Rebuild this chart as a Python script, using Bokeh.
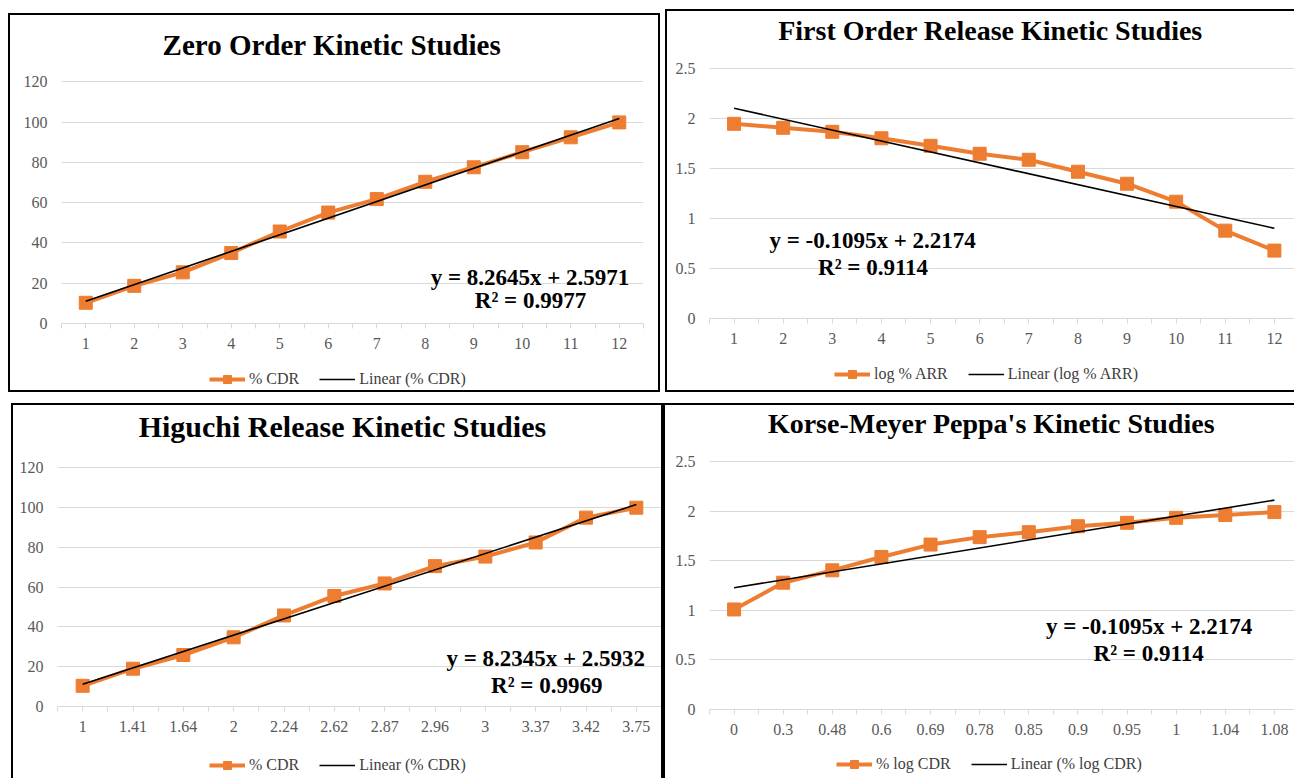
import numpy as np
from bokeh.plotting import figure
from bokeh.models import (Range1d, FixedTicker, Legend, LegendItem, Label,
                          CustomJSTickFormatter)
from bokeh.layouts import column, row
from bokeh.embed import file_html
from bokeh.resources import INLINE

# ---------------- data ----------------
time_points = [1, 2, 3, 4, 5, 6, 7, 8, 9, 10, 11, 12]
time_labels = ["1", "2", "3", "4", "5", "6", "7", "8", "9", "10", "11", "12"]

zero_order_cdr = [10.3, 18.7, 25.4, 35.0, 45.7, 55.1, 61.8, 70.4, 77.6, 85.1, 92.5, 99.9]
first_order_log_arr = [1.95, 1.91, 1.87, 1.805, 1.73, 1.65, 1.59, 1.47, 1.35, 1.17, 0.88, 0.68]
higuchi_sqrt_t = ["1", "1.41", "1.64", "2", "2.24", "2.62", "2.87", "2.96", "3", "3.37", "3.42", "3.75"]
higuchi_cdr = [10.4, 19.0, 25.9, 34.8, 45.8, 55.6, 61.9, 70.6, 75.4, 82.5, 95.0, 100.0]
peppas_log_t = ["0", "0.3", "0.48", "0.6", "0.69", "0.78", "0.85", "0.9", "0.95", "1", "1.04", "1.08"]
peppas_log_cdr = [1.01, 1.28, 1.405, 1.54, 1.665, 1.74, 1.79, 1.85, 1.885, 1.935, 1.963, 1.993]

zero_ticks = [0, 20, 40, 60, 80, 100, 120]
log_ticks = [0, 0.5, 1, 1.5, 2, 2.5]

ORANGE = "#ED7D31"
GRID = "#d9d9d9"
FONT = "Liberation Serif"
BORDER = "2px solid black"


def make_panel(title, x_labels, y_vals, y_ticks, series_label, eq_text, r2_text,
               eq_xy, r2_xy, cfg):
    x = time_points
    side = {"border-left": BORDER}
    if cfg["right_border"]:
        side["border-right"] = BORDER

    # ---------- main plot ----------
    p = figure(width=cfg["w"], height=cfg["h"], output_backend="svg",
               toolbar_location=None,
               x_range=Range1d(0.5, cfg["x_end"]),
               y_range=Range1d(y_ticks[0], cfg["y_end"]),
               min_border_left=cfg["mb_l"], min_border_right=cfg["mb_r"],
               min_border_top=0, min_border_bottom=40,
               styles=dict(side, **{"border-top": BORDER}))
    p.outline_line_color = None
    p.background_fill_color = "white"
    p.border_fill_color = "white"

    xt = FixedTicker(ticks=x, minor_ticks=[v + 0.5 for v in [0] + x])
    p.xaxis.ticker = xt
    p.xaxis.major_label_overrides = {xv: lab for xv, lab in zip(x, x_labels)}
    p.xaxis.axis_line_color = GRID
    p.xaxis.major_tick_line_color = GRID
    p.xaxis.minor_tick_line_color = GRID
    p.xaxis.major_tick_in = 0
    p.xaxis.major_tick_out = 5
    p.xaxis.minor_tick_in = 0
    p.xaxis.minor_tick_out = 5
    p.xaxis.major_label_standoff = 9
    p.xaxis.major_label_text_font = FONT
    p.xaxis.major_label_text_font_size = "16px"
    p.xaxis.major_label_text_color = "#595959"

    p.yaxis.ticker = FixedTicker(ticks=y_ticks)
    p.yaxis.formatter = CustomJSTickFormatter(code="return String(tick)")
    p.yaxis.axis_line_color = None
    p.yaxis.major_tick_line_color = None
    p.yaxis.minor_tick_line_color = None
    p.yaxis.major_tick_out = 0
    p.yaxis.major_label_standoff = 14
    p.yaxis.major_label_text_font = FONT
    p.yaxis.major_label_text_font_size = "16px"
    p.yaxis.major_label_text_color = "#595959"

    p.xgrid.grid_line_color = None
    p.ygrid.grid_line_color = GRID
    p.ygrid.grid_line_width = 1

    p.line(x, y_vals, line_color=ORANGE, line_width=4)
    p.scatter(x, y_vals, marker="square", size=13, fill_color=ORANGE, line_color=ORANGE)

    # linear trendline (least squares on the plotted points)
    slope, icpt = np.polyfit(np.array(x, dtype=float), np.array(y_vals, dtype=float), 1)
    fit_x = [x[0], x[-1]]
    fit_y = [slope * fit_x[0] + icpt, slope * fit_x[1] + icpt]
    p.line(fit_x, fit_y, line_color="black", line_width=1.6)

    # chart title
    p.add_layout(Label(x=cfg["title_xy"][0], y=cfg["title_xy"][1], text=title,
                       text_align="center", text_baseline="middle", text_font=FONT,
                       text_font_style="bold", text_font_size=cfg["tsize"],
                       text_color="black"))

    # trendline equation
    for txt, (tx, ty) in ((eq_text, eq_xy), (r2_text, r2_xy)):
        p.add_layout(Label(x=tx, y=ty, text=txt, text_align="center",
                           text_baseline="middle", text_font=FONT,
                           text_font_style="bold", text_font_size="23px",
                           text_color="black"))

    # ---------- legend strip ----------
    lstyles = dict(side)
    if cfg["bottom_border"]:
        lstyles["border-bottom"] = BORDER
    lg = figure(width=cfg["w"], height=cfg["lh"], output_backend="svg",
                toolbar_location=None, x_axis_type=None, y_axis_type=None,
                x_range=Range1d(0, 1), y_range=Range1d(0, 1),
                min_border=0, styles=lstyles)
    lg.outline_line_color = None
    lg.grid.grid_line_color = None
    lg.border_fill_color = "white"
    d_line = lg.line([5, 6], [5, 5], line_color=ORANGE, line_width=4)
    d_pts = lg.scatter([5.5], [5], marker="square", size=13,
                       fill_color=ORANGE, line_color=ORANGE)
    d_fit = lg.line([5, 6], [5, 5], line_color="black", line_width=1.6)
    legend = Legend(items=[LegendItem(label=series_label, renderers=[d_line, d_pts]),
                           LegendItem(label="Linear (" + series_label + ")", renderers=[d_fit])],
                    location=cfg["leg"], orientation="horizontal",
                    border_line_color=None, background_fill_alpha=0,
                    padding=0, margin=0, spacing=20, glyph_width=36,
                    glyph_height=20, label_height=20, label_standoff=4,
                    label_text_font=FONT, label_text_font_size="16px",
                    label_text_color="#404040")
    lg.add_layout(legend)

    return column(p, lg, margin=cfg["margin"], spacing=0)


c1 = make_panel("Zero Order Kinetic  Studies", time_labels, zero_order_cdr, zero_ticks,
                "% CDR", "y = 8.2645x + 2.5971", "R² = 0.9977", (10.16, 22.9), (10.17, 11.2),
                dict(w=652, h=348, lh=31, x_end=12.5, y_end=153, mb_l=51, mb_r=19,
                     right_border=True, bottom_border=True, margin=(13, 0, 0, 8),
                     tsize="29px", title_xy=(6.15, 138.5), leg=(148, 3)))

c2 = make_panel("First Order Release Kinetic Studies", time_labels, first_order_log_arr, log_ticks,
                "log % ARR", "y = -0.1095x + 2.2174", "R² = 0.9114", (3.82, 0.78), (3.83, 0.513),
                dict(w=629, h=347, lh=36, x_end=12.45, y_end=3.075, mb_l=42, mb_r=0,
                     right_border=False, bottom_border=True, margin=(9, 0, 0, 5),
                     tsize="28px", title_xy=(6.22, 2.883), leg=(125, 8)))

c3 = make_panel("Higuchi Release Kinetic Studies", higuchi_sqrt_t, higuchi_cdr, zero_ticks,
                "% CDR", "y = 8.2345x + 2.5932", "R² = 0.9969", (10.2, 24.2), (10.22, 10.6),
                dict(w=652, h=341, lh=34, x_end=12.5, y_end=151.4, mb_l=44, mb_r=4,
                     right_border=True, bottom_border=False, margin=(11, 0, 0, 11),
                     tsize="30px", title_xy=(6.16, 140.8), leg=(152, 3)))

c4 = make_panel("Korse-Meyer Peppa's Kinetic Studies", peppas_log_t, peppas_log_cdr, log_ticks,
                "% log CDR", "y = -0.1095x + 2.2174", "R² = 0.9114", (9.45, 0.838), (9.44, 0.57),
                dict(w=631, h=344, lh=31, x_end=12.45, y_end=3.069, mb_l=44, mb_r=0,
                     right_border=False, bottom_border=False, margin=(11, 0, 0, 0),
                     tsize="28px", title_xy=(6.24, 2.886), leg=(127, 4)))

layout = column(row(c1, c2), row(c3, c4))

open("out.html", "w").write(file_html(layout, INLINE))
